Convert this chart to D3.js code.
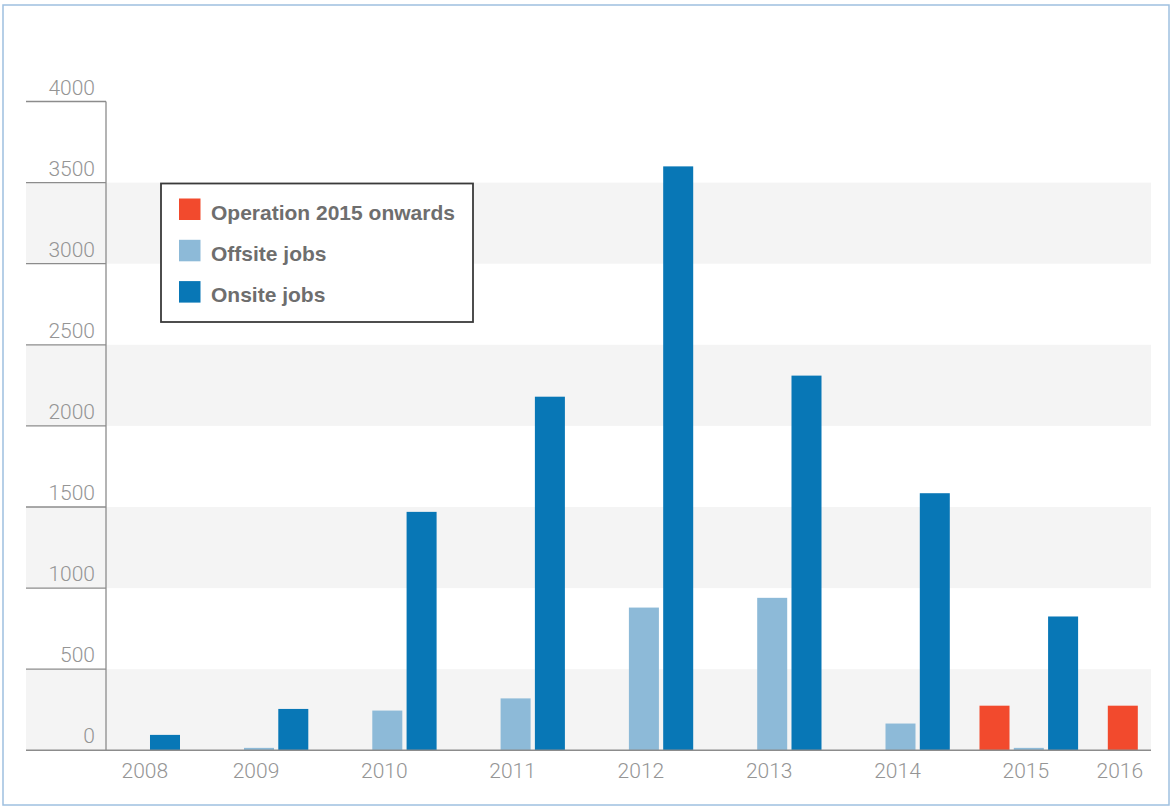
<!DOCTYPE html>
<html>
<head>
<meta charset="utf-8">
<script src="https://cdnjs.cloudflare.com/ajax/libs/d3/7.8.5/d3.min.js"></script>
<style>
  html, body { margin: 0; padding: 0; background: #fff; }
  svg { display: block; }
</style>
</head>
<body>
<svg id="chart" width="1174" height="809"></svg>
<script>
// data
const years = ['2008', '2009', '2010', '2011', '2012', '2013', '2014', '2015', '2016'];
const series = ['Operation 2015 onwards', 'Offsite jobs', 'Onsite jobs'];
// null = no bar slot for that year
const operation = [null, 0, 0, 0, 0, 0, 0, 275, 275];
const offsite = [0, 15, 245, 320, 880, 940, 165, 15, null];
const onsite = [95, 255, 1470, 2180, 3600, 2310, 1585, 825, null];
const yTicks = [0, 500, 1000, 1500, 2000, 2500, 3000, 3500, 4000];
const colors = ['#f24a2d', '#8dbad8', '#0877b6'];

const svg = d3.select('#chart');

// frame
svg.append('rect')
    .attr('x', 3).attr('y', 5)
    .attr('width', 1166).attr('height', 800)
    .attr('fill', 'none')
    .attr('stroke', '#9ec0e0')
    .attr('stroke-width', 1.5);

const y = d3.scaleLinear().domain([0, 4000]).range([750.3, 101.5]);

const x = d3.scaleBand()
    .domain(years)
    .range([81.4, 1206.4])
    .paddingInner(0.2315)
    .paddingOuter(0);

const xs = d3.scaleBand()
    .domain(series)
    .range([0, x.bandwidth()])
    .paddingInner(0.125);

const left = 26, axisX = 106, right = 1151;

// grey stripes every other 500
const stripes = yTicks.filter((t, i) => i % 2 == 0 && t < 4000);
svg.append('g').selectAll('rect')
    .data(stripes)
    .enter().append('rect')
    .attr('x', left)
    .attr('width', right - left)
    .attr('y', d => y(d + 500))
    .attr('height', d => y(d) - y(d + 500))
    .attr('fill', '#f4f4f4');

// y ticks (lines + labels)
const yg = svg.append('g');
yg.selectAll('line')
    .data(yTicks.filter(t => t > 0))
    .enter().append('line')
    .attr('x1', left).attr('x2', axisX)
    .attr('y1', d => y(d)).attr('y2', d => y(d))
    .attr('stroke', '#8c8c8c').attr('stroke-width', 1.3);
yg.selectAll('text')
    .data(yTicks)
    .enter().append('text')
    .attr('x', 95)
    .attr('y', d => y(d) - 7)
    .attr('text-anchor', 'end')
    .attr('font-family', 'Roboto, "Liberation Sans", sans-serif')
    .attr('font-weight', 300)
    .attr('font-size', 21)
    .attr('fill', '#959595')
    .text(d => d);

// bars
const rows = years.map((yr, i) => ({
    year: yr,
    vals: [operation[i], offsite[i], onsite[i]]
}));

const groups = svg.append('g').selectAll('g')
    .data(rows)
    .enter().append('g')
    .attr('transform', d => 'translate(' + x(d.year) + ',0)');

groups.selectAll('rect')
    .data(d => d.vals.map((v, j) => ({ s: series[j], v: v, c: colors[j] })).filter(e => e.v != null && e.v > 0))
    .enter().append('rect')
    .attr('x', e => xs(e.s))
    .attr('width', xs.bandwidth())
    .attr('y', e => y(e.v))
    .attr('height', e => y(0) - y(e.v))
    .attr('fill', e => e.c);

// axis lines
svg.append('line')
    .attr('x1', axisX).attr('x2', axisX)
    .attr('y1', y(4000)).attr('y2', y(0))
    .attr('stroke', '#8c8c8c').attr('stroke-width', 1.3);
svg.append('line')
    .attr('x1', left).attr('x2', right)
    .attr('y1', y(0)).attr('y2', y(0))
    .attr('stroke', '#8c8c8c').attr('stroke-width', 1.5);

// year labels: centred under the slots that exist for that year
svg.append('g').selectAll('text')
    .data(rows)
    .enter().append('text')
    .attr('x', d => {
        const idx = d.vals.map((v, j) => v == null ? -1 : j).filter(j => j >= 0);
        const a = x(d.year) + xs(series[idx[0]]);
        const b = x(d.year) + xs(series[idx[idx.length - 1]]) + xs.bandwidth();
        return (a + b) / 2 - 3;
    })
    .attr('y', 778)
    .attr('text-anchor', 'middle')
    .attr('font-family', 'Roboto, "Liberation Sans", sans-serif')
    .attr('font-weight', 300)
    .attr('font-size', 21)
    .attr('fill', '#959595')
    .text(d => d.year);

// legend
const lg = svg.append('g').attr('transform', 'translate(161,183.5)');
lg.append('rect')
    .attr('width', 312).attr('height', 138.5)
    .attr('fill', '#fff')
    .attr('stroke', '#3a3a3a').attr('stroke-width', 1.8);
const items = lg.selectAll('g')
    .data(series)
    .enter().append('g')
    .attr('transform', (d, i) => 'translate(18,' + (15 + i * 41.3) + ')');
items.append('rect')
    .attr('width', 21.5).attr('height', 21.5)
    .attr('fill', (d, i) => colors[i]);
items.append('text')
    .attr('x', 32).attr('y', 21)
    .attr('font-family', '"Liberation Sans", Arial, sans-serif')
    .attr('font-weight', 'bold')
    .attr('font-size', 21)
    .attr('fill', '#6e6e6e')
    .text(d => d);
</script>
</body>
</html>
